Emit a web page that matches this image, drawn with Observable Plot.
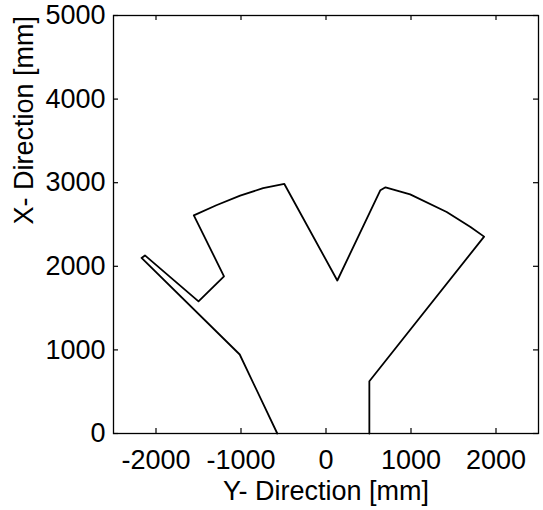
<!DOCTYPE html>
<html>
<head>
<meta charset="utf-8">
<script src="https://cdn.jsdelivr.net/npm/d3@7"></script>
<script src="https://cdn.jsdelivr.net/npm/@observablehq/plot@0.6"></script>
<style>
  html, body { margin: 0; padding: 0; background: #fff; }
</style>
</head>
<body>
<div id="chart"></div>
<script>
// Boundary outline: Y-direction (horizontal, mm) and X-direction (vertical, mm)
const yDirection = [-573, -1015, -2170, -2130, -1500, -1200, -1555, -1290, -1010, -740, -490, 133, 640, 700, 990, 1420, 1700, 1860, 510, 510];
const xDirection = [0, 945, 2100, 2130, 1580, 1880, 2610, 2730, 2845, 2935, 2985, 1830, 2910, 2945, 2860, 2650, 2470, 2355, 625, 0];

const xTicks = [-2000, -1000, 0, 1000, 2000];
const yTicks = [0, 1000, 2000, 3000, 4000, 5000];
const xLabel = "Y- Direction [mm]";
const yLabel = "X- Direction [mm]";

const W = 543, H = 510;
const mL = 113, mR = 5, mT = 15, mB = 77;
const fw = W - mL - mR, fh = H - mT - mB;
const tk = 5;
const font = "'Liberation Sans', Arial, Helvetica, sans-serif";
const fmt = d => String(d);

const chart = Plot.plot({
  width: W,
  height: H,
  marginLeft: mL,
  marginRight: mR,
  marginTop: mT,
  marginBottom: mB,
  style: { fontFamily: font, fontSize: "27px", color: "#000", background: "#fff" },
  x: { domain: [-2500, 2500] },
  y: { domain: [0, 5000] },
  marks: [
    Plot.frame({ stroke: "#000", strokeWidth: 1.3 }),
    Plot.axisX(xTicks, { tickSize: 0, tickPadding: 16, fontSize: 27, label: null, tickFormat: fmt }),
    Plot.axisY(yTicks, { tickSize: 0, tickPadding: 8, fontSize: 27, label: null, tickFormat: fmt }),
    // inward ticks on all four sides
    Plot.tickX(xTicks, { x: d => d, stroke: "#000", strokeWidth: 1.2, insetTop: fh - tk }),
    Plot.tickX(xTicks, { x: d => d, stroke: "#000", strokeWidth: 1.2, insetBottom: fh - tk }),
    Plot.tickY(yTicks, { y: d => d, stroke: "#000", strokeWidth: 1.2, insetRight: fw - tk }),
    Plot.tickY(yTicks, { y: d => d, stroke: "#000", strokeWidth: 1.2, insetLeft: fw - tk }),
    Plot.line(yDirection, { x: yDirection, y: xDirection, stroke: "#000", strokeWidth: 1.8, strokeLinejoin: "round", strokeLinecap: "round" }),
    Plot.text([xLabel], { text: d => d, frameAnchor: "bottom", dy: 58, lineAnchor: "middle", fontSize: 27, fill: "#000" }),
    Plot.text([yLabel], { text: d => d, frameAnchor: "left", dx: -89, rotate: -90, lineAnchor: "middle", fontSize: 27, fill: "#000" })
  ]
});
document.getElementById("chart").appendChild(chart);
</script>
</body>
</html>
